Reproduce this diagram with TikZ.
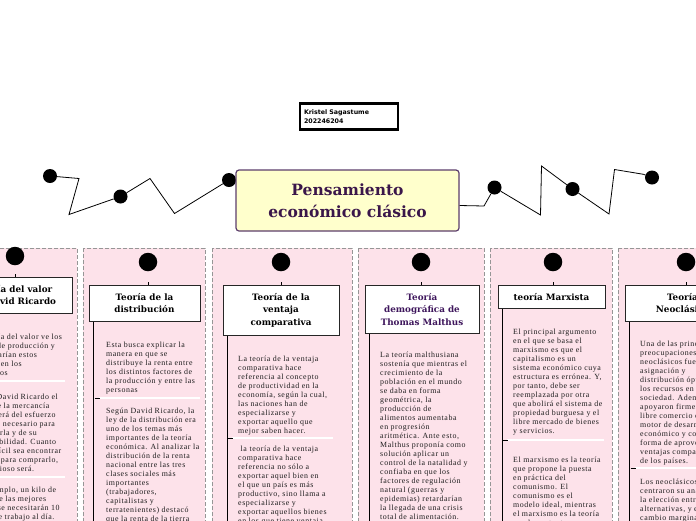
\documentclass[tikz,border=0pt]{standalone}
\usepackage{fontspec}
\setmainfont{Liberation Serif}
\newfontfamily\bodyfont[LetterSpace=7]{Liberation Serif}
\newfontfamily\headfont{DejaVu Serif}
\newfontfamily\authfont{DejaVu Sans}
\usepackage{xcolor}
\usetikzlibrary{positioning}
\definecolor{colpink}{RGB}{253, 226, 234}
\definecolor{dashgray}{RGB}{150, 150, 150}
\definecolor{mainfill}{RGB}{255, 255, 204}
\definecolor{mainborder}{RGB}{92, 62, 108}
\definecolor{maintext}{RGB}{58, 22, 74}
\definecolor{malthus}{RGB}{62, 22, 92}
\definecolor{bodytext}{RGB}{30, 30, 30}

\begin{document}
\begin{tikzpicture}[
    x=1pt, y=1pt,
    column/.style={draw=dashgray, fill=colpink, line width=0.8pt, dash pattern=on 4pt off 2pt},
    zigdot/.style={circle, fill=black, inner sep=0pt, minimum size=14pt},
    bigdot/.style={circle, fill=black, inner sep=0pt, minimum size=18.5pt},
    zig/.style={line width=0.8pt},
    topic/.style={draw=black!85, fill=white, line width=1pt, align=center, inner ysep=8pt, inner xsep=2pt, font=\headfont\bfseries\fontsize{8.8}{12.5}\selectfont},
    body/.style={anchor=north west, inner sep=0pt, align=left, text=bodytext, font=\bodyfont\fontsize{7.9}{9}\selectfont},
    stem/.style={line width=0.9pt},
    sepline/.style={white, line width=1.4pt}
]
\useasboundingbox (0,0) rectangle (696,-520);
\clip (0,0) rectangle (696,-520);

    % author and main title
    \node[draw=black, line width=2.2pt, fill=white, text width=90pt, inner xsep=4pt, minimum height=26pt, align=left, font=\authfont\bfseries\fontsize{6.3}{9.5}\selectfont] (author) at (349,-116.5) {Kristel Sagastume\\202246204};

    \node[zigdot] (dl1) at (50,-176) {};
    \node[zigdot] (dl2) at (120.5,-196.5) {};
    \node[zigdot] (dl3) at (229,-180) {};
    \node[draw=mainborder, fill=mainfill, line width=1.2pt, rounded corners=3pt, minimum width=223pt, minimum height=61pt, align=center, text=maintext, font=\headfont\bfseries\fontsize{15.5}{22}\selectfont] (main) at (347.5,-200.5) {Pensamiento\\económico clásico};
    \node[zigdot] (dr1) at (494.5,-187.5) {};
    \node[zigdot] (dr2) at (572.5,-189) {};
    \node[zigdot] (dr3) at (652,-177.5) {};

    \draw[zig] (dl1) -- (79,-178.5) -- (69,-214.5) -- (dl2) -- (150,-178.5) -- (174.5,-213.5) -- (dl3);
    \draw[zig] ([yshift=-5pt]main.east) -- (484,-206) -- (dr1) -- (540.5,-215) -- (541.5,-166) -- (dr2) -- (609,-214) -- (614.5,-169.5) -- (643.5,-174.3) -- (dr3);

    % columns
    \draw[column] (-50,-248) rectangle (77,-535);
    \draw[column] (83,-248) rectangle (205,-535);
    \draw[column] (212,-248) rectangle (352,-535);
    \draw[column] (358,-248) rectangle (484,-535);
    \draw[column] (490,-248) rectangle (612,-535);
    \draw[column] (618,-248) rectangle (750,-535);

    % column 1
    \node[bigdot] (d1) at (15,-256) {};
    \node[topic, minimum width=116pt, below=11.5pt of d1, xshift=-1pt] (t1) {Teoría del valor\\de David Ricardo};
    \draw[stem] (t1.north -| d1) -- ++(0,3);
    \node[body] (b1a) at (-28,-334) {La teoría del valor ve los\\costos de producción y\\cómo varían estos\\precios en los\\productos};
    \draw[sepline] (-40,-381) -- (65,-381);
    \node[body] (b1b) at (-28,-394) {Según David Ricardo el\\valor de la mercancía\\dependerá del esfuerzo\\humano necesario para\\producirla y de su\\disponibilidad. Cuanto\\más difícil sea encontrar\\un bien para comprarlo,\\más valioso será.};
    \draw[sepline] (-40,-477) -- (65,-477);
    \node[body] (b1c) at (-28,-487) {Por ejemplo, un kilo de\\papas de las mejores\\tierras se necesitarán 10\\horas de trabajo al día.};

    % column 2
    \node[bigdot] (d2) at (148,-262) {};
    \node[topic, minimum width=111pt, below=13.5pt of d2, xshift=-3.5pt] (t2) {Teoría de la\\distribución};
    \draw[stem] (t2.north -| d2) -- ++(0,3);
    \draw[stem] ([xshift=5pt]t2.south west) -- ++(0,-220);
    \node[body] (b2a) at (106,-342) {Esta busca explicar la\\manera en que se\\distribuye la renta entre\\los distintos factores de\\la producción y entre las\\personas};
    \draw[sepline] (99,-398) -- (200,-398);
    \draw[stem] (94.5,-398) -- ++(5,0);
    \node[body] (b2b) at (106,-408) {Según David Ricardo, la\\ley de la distribución era\\uno de los temas más\\importantes de la teoría\\económica. Al analizar la\\distribución de la renta\\nacional entre las tres\\clases sociales más\\importantes\\(trabajadores,\\capitalistas y\\terratenientes) destacó\\que la renta de la tierra};

    % column 3
    \node[bigdot] (d3) at (281,-262) {};
    \node[topic, minimum width=116pt, below=13.5pt of d3] (t3) {Teoría de la\\ventaja\\comparativa};
    \draw[stem] (t3.north -| d3) -- ++(0,3);
    \draw[stem] ([xshift=4.5pt]t3.south west) -- ++(0,-220);
    \node[body] (b3a) at (238,-356) {La teoría de la ventaja\\comparativa hace\\referencia al concepto\\de productividad en la\\economía, según la cual,\\las naciones han de\\especializarse y\\exportar aquello que\\mejor saben hacer.};
    \draw[sepline] (232,-438) -- (333,-438);
    \draw[stem] (227.5,-438) -- ++(5,0);
    \node[body] (b3b) at (238,-446) {\ la teoría de la ventaja\\comparativa hace\\referencia no sólo a\\exportar aquel bien en\\el que un país es más\\productivo, sino llama a\\especializarse y\\exportar aquellos bienes\\en los que tiene ventaja};

    % column 4
    \node[bigdot] (d4) at (421,-262) {};
    \node[topic, minimum width=114pt, below=13.5pt of d4, xshift=1pt, text=malthus] (t4) {Teoría\\demográfica de\\Thomas Malthus};
    \draw[stem] (t4.north -| d4) -- ++(0,3);
    \draw[stem] ([xshift=4.5pt]t4.south west) -- ++(0,-220);
    \node[body] (b4a) at (380,-352) {La teoría malthusiana\\sostenía que mientras el\\crecimiento de la\\población en el mundo\\se daba en forma\\geométrica, la\\producción de\\alimentos aumentaba\\en progresión\\aritmética. Ante esto,\\Malthus proponía como\\solución aplicar un\\control de la natalidad y\\confiaba en que los\\factores de regulación\\natural (guerras y\\epidemias) retardarían\\la llegada de una crisis\\total de alimentación.};

    % column 5
    \node[bigdot] (d5) at (553,-262) {};
    \node[topic, minimum width=107pt, below=13.5pt of d5, xshift=-1.5pt] (t5) {teoría Marxista};
    \draw[stem] (t5.north -| d5) -- ++(0,3);
    \draw[stem] ([xshift=4.5pt]t5.south west) -- ++(0,-230);
    \node[body] (b5a) at (513,-329) {El principal argumento\\en el que se basa el\\marxismo es que el\\capitalismo es un\\sistema económico cuya\\estructura es errónea. Y,\\por tanto, debe ser\\reemplazada por otra\\que abolirá el sistema de\\propiedad burguesa y el\\libre mercado de bienes\\y servicios.};
    \draw[sepline] (507,-440) -- (604,-440);
    \draw[stem] (502.5,-440) -- ++(5,0);
    \node[body] (b5b) at (513,-457) {El marxismo es la teoría\\que propone la puesta\\en práctica del\\comunismo. El\\comunismo es el\\modelo ideal, mientras\\el marxismo es la teoría\\que lo sustenta.};

    % column 6
    \node[bigdot] (d6) at (686,-262) {};
    \node[topic, minimum width=115pt, below=13.5pt of d6, xshift=-3.5pt] (t6) {Teoría\\Neoclásica};
    \draw[stem] (t6.north -| d6) -- ++(0,3);
    \draw[stem] ([xshift=5pt]t6.south west) -- ++(0,-220);
    \node[body] (b6a) at (640,-341) {Una de las principales\\preocupaciones de los\\neoclásicos fue la\\asignación y\\distribución óptima de\\los recursos en la\\sociedad. Además,\\apoyaron firmemente el\\libre comercio como\\motor de desarrollo\\económico y como\\forma de aprovechar las\\ventajas comparativas\\de los países.};
    \draw[sepline] (635,-468) -- (740,-468);
    \draw[stem] (630.5,-468) -- ++(5,0);
    \node[body] (b6b) at (640,-479) {Los neoclásicos\\centraron su análisis en\\la elección entre\\alternativas, y en el\\cambio marginal};

\end{tikzpicture}
\end{document}
